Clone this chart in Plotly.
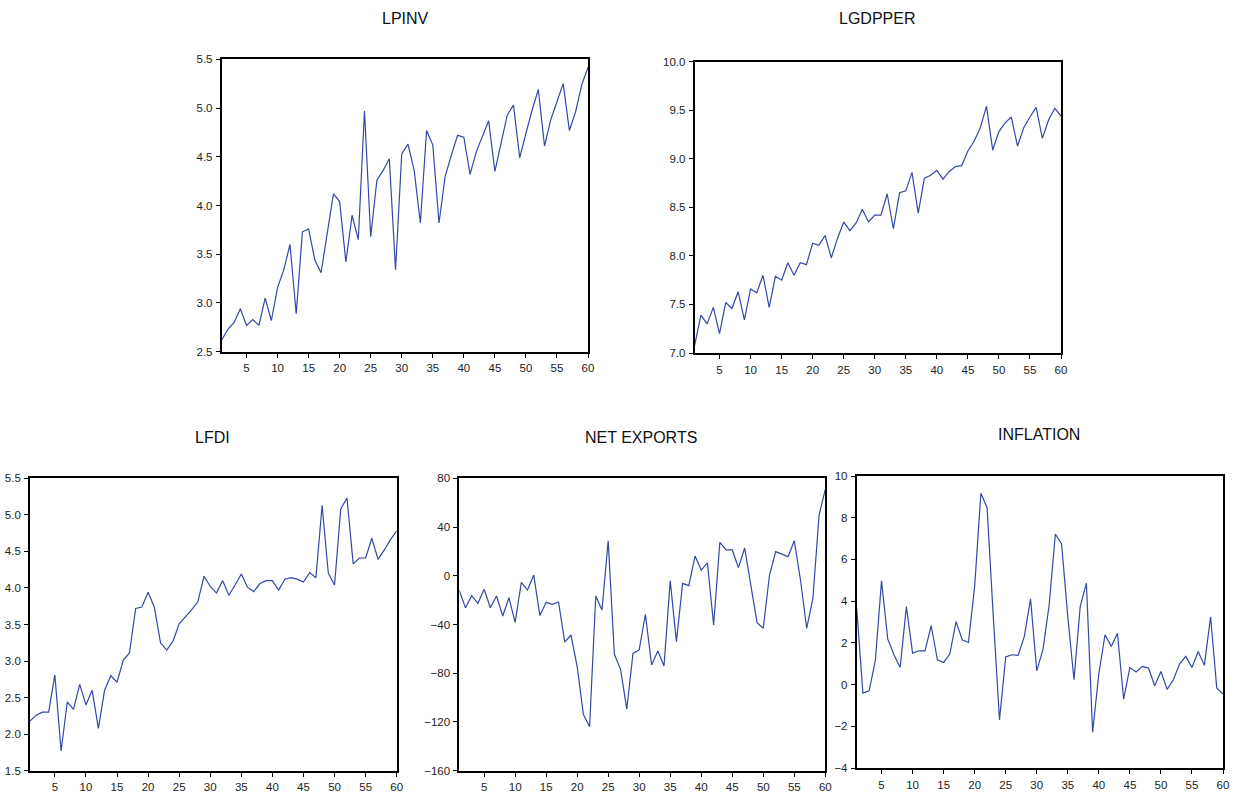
import plotly.graph_objects as go

periods = list(range(1, 61))

lpinv = [2.62, 2.73, 2.80, 2.94, 2.77, 2.83, 2.77, 3.05, 2.82, 3.16,
         3.34, 3.60, 2.89, 3.73, 3.76, 3.44, 3.31, 3.74, 4.12, 4.04,
         3.42, 3.90, 3.65, 4.97, 3.68, 4.26, 4.36, 4.48, 3.34, 4.53,
         4.63, 4.36, 3.82, 4.77, 4.62, 3.82, 4.30, 4.52, 4.72, 4.70,
         4.32, 4.55, 4.72, 4.87, 4.35, 4.63, 4.93, 5.03, 4.49, 4.74,
         4.98, 5.19, 4.61, 4.88, 5.07, 5.25, 4.77, 4.96, 5.24, 5.42]

lgdpper = [7.08, 7.39, 7.30, 7.47, 7.20, 7.52, 7.46, 7.63, 7.34, 7.66,
           7.62, 7.80, 7.47, 7.79, 7.75, 7.93, 7.80, 7.93, 7.91, 8.13,
           8.11, 8.21, 7.98, 8.18, 8.35, 8.26, 8.34, 8.48, 8.35, 8.42,
           8.42, 8.64, 8.28, 8.65, 8.67, 8.86, 8.44, 8.80, 8.83, 8.88,
           8.79, 8.87, 8.92, 8.93, 9.08, 9.18, 9.32, 9.54, 9.09, 9.28,
           9.37, 9.43, 9.13, 9.32, 9.43, 9.53, 9.21, 9.40, 9.52, 9.44]

lfdi = [2.18, 2.26, 2.30, 2.30, 2.81, 1.77, 2.44, 2.34, 2.68, 2.40,
        2.60, 2.08, 2.60, 2.80, 2.71, 3.01, 3.11, 3.72, 3.74, 3.94,
        3.74, 3.25, 3.15, 3.27, 3.51, 3.60, 3.70, 3.81, 4.16, 4.02,
        3.93, 4.10, 3.90, 4.04, 4.19, 4.01, 3.95, 4.06, 4.10, 4.10,
        3.97, 4.12, 4.14, 4.12, 4.08, 4.21, 4.14, 5.13, 4.20, 4.04,
        5.08, 5.23, 4.33, 4.41, 4.41, 4.68, 4.39, 4.52, 4.66, 4.78]

net_exports = [-12.2, -26.2, -16.3, -22.6, -11.1, -26.2, -16.6, -33.0, -18.0, -38.2,
               -5.4, -11.7, 0.6, -32.7, -21.8, -23.4, -21.5, -54.4, -48.6, -74.6,
               -113.7, -123.9, -16.6, -28.1, 28.8, -64.5, -76.8, -109.4, -63.7, -60.9,
               -31.6, -73.2, -61.8, -74.1, -4.0, -54.1, -6.2, -8.1, 16.2, 4.7,
               10.5, -40.4, 27.5, 21.2, 21.2, 6.7, 22.8, -8.9, -38.5, -43.1,
               0.4, 19.8, 17.6, 15.7, 28.8, -3.5, -43.1, -18.5, 49.9, 71.0]

inflation = [3.66, -0.41, -0.30, 1.14, 4.97, 2.19, 1.43, 0.82, 3.74, 1.51,
             1.62, 1.62, 2.82, 1.19, 1.06, 1.46, 3.02, 2.15, 2.02, 4.70,
             9.17, 8.48, 3.26, -1.69, 1.32, 1.43, 1.40, 2.31, 4.11, 0.66,
             1.67, 3.82, 7.22, 6.74, 3.26, 0.23, 3.74, 4.86, -2.28, 0.52,
             2.39, 1.83, 2.46, -0.70, 0.82, 0.60, 0.87, 0.79, -0.06, 0.63,
             -0.23, 0.23, 0.98, 1.35, 0.82, 1.59, 0.92, 3.25, -0.17, -0.44]

titles = ["LPINV", "LGDPPER", "LFDI", "NET EXPORTS", "INFLATION"]
series = [lpinv, lgdpper, lfdi, net_exports, inflation]
y_ranges = [(2.5, 5.5), (7.0, 10.0), (1.5, 5.5), (-160, 80), (-4, 10)]
y_dticks = [0.5, 0.5, 0.5, 40, 2]
y_formats = [".1f", ".1f", ".1f", "d", "d"]
x_ticks = list(range(5, 61, 5))

W, H = 1233, 794
# pixel boxes: (left, right, top, bottom)
boxes = [(221.7, 588.0, 59.3, 351.7),
         (694.7, 1061.0, 61.7, 353.0),
         (30.0, 396.7, 478.3, 770.7),
         (459.3, 825.3, 478.3, 770.7),
         (856.7, 1223.0, 476.0, 768.0)]
title_pos = [(405, 18), (877, 18), (212, 437), (641, 437), (1039, 434)]

line_color = "#3448A8"
font_family = "Liberation Sans, Arial, sans-serif"
tick_family = "Liberation Sans Narrow, Arial Narrow, Liberation Sans, sans-serif"

fig = go.Figure()
annotations = []
for i, (name, vals) in enumerate(zip(titles, series)):
    n = i + 1
    xa = "x" if n == 1 else f"x{n}"
    ya = "y" if n == 1 else f"y{n}"
    fig.add_trace(go.Scatter(x=periods, y=vals, mode="lines",
                             line=dict(color=line_color, width=1.2),
                             xaxis=xa, yaxis=ya, showlegend=False))
    l, r, t, b = boxes[i]
    axis_common = dict(showline=True, linecolor="black", linewidth=1.8, mirror=True,
                       ticks="outside", ticklen=4, tickwidth=1, tickcolor="black",
                       showgrid=False, zeroline=False, automargin=False,
                       tickfont=dict(family=tick_family, size=11.5, color="#222222"))
    fig.layout[f"xaxis{'' if n == 1 else n}"] = dict(
        domain=[l / W, r / W], anchor=ya, range=[1, 60],
        tickmode="array", tickvals=x_ticks, ticktext=[str(v) for v in x_ticks],
        ticklabelstandoff=1, **axis_common)
    lo, hi = y_ranges[i]
    fig.layout[f"yaxis{'' if n == 1 else n}"] = dict(
        domain=[1 - b / H, 1 - t / H], anchor=xa, range=[lo, hi],
        tick0=lo, dtick=y_dticks[i], tickformat=y_formats[i],
        ticklabelstandoff=1, **axis_common)
    tx, ty = title_pos[i]
    annotations.append(dict(text=name, x=tx / W, y=1 - ty / H, xref="paper", yref="paper",
                            showarrow=False, xanchor="center", yanchor="middle",
                            font=dict(family=font_family, size=16, color="#111111")))

fig.update_layout(width=W, height=H, margin=dict(l=0, r=0, t=0, b=0, pad=0),
                  autosize=False,
                  paper_bgcolor="white", plot_bgcolor="white",
                  annotations=annotations)

fig.write_html("out.html", config={"displayModeBar": False},
               post_script="document.body.style.margin='0';document.body.style.overflow='hidden';")
